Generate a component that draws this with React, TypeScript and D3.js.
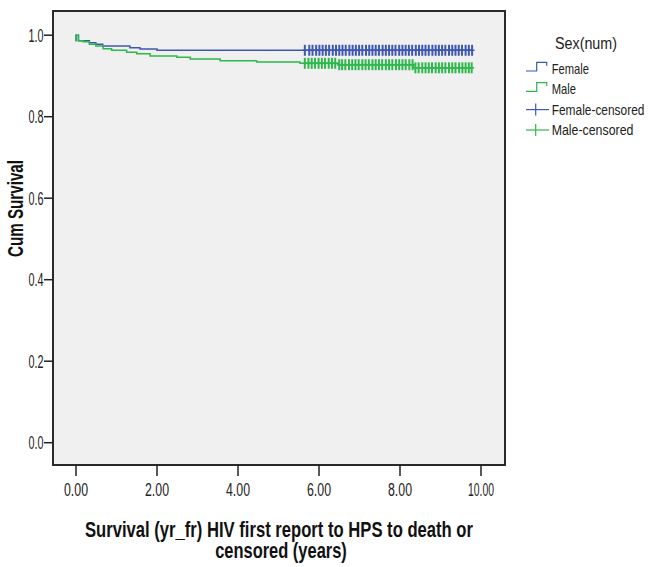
import React from 'react';
import * as d3 from 'd3';

// Kaplan-Meier steps (time in years, cumulative survival)
const femaleTimes = [0, 0, 0.06, 0.33, 0.49, 0.66, 1.33, 1.58, 2.0, 9.79];
const femaleSurv = [0.985, 1.0, 0.9865, 0.9816, 0.978, 0.9735, 0.969, 0.966, 0.963, 0.963];

const maleTimes = [0, 0, 0.06, 0.18, 0.33, 0.49, 0.67, 0.88, 1.25, 1.5, 1.83, 2.49, 2.82, 3.56, 4.46, 5.53, 6.48, 8.33, 9.79];
const maleSurv = [0.985, 1.0, 0.9865, 0.984, 0.978, 0.9735, 0.967, 0.963, 0.958, 0.9546, 0.949, 0.9458, 0.9416, 0.9374, 0.934, 0.931, 0.9276, 0.92, 0.92];

// censored cases
const femaleCensored = [
  5.65, 5.76, 5.84, 5.93, 6.01, 6.09, 6.17, 6.25, 6.34, 6.42, 6.5, 6.58, 6.66, 6.75, 6.83, 6.91, 6.99,
  7.07, 7.16, 7.24, 7.32, 7.4, 7.48, 7.57, 7.65, 7.73, 7.81, 7.89, 7.98, 8.06, 8.14, 8.22, 8.3, 8.39,
  8.47, 8.55, 8.63, 8.71, 8.8, 8.88, 8.96, 9.04, 9.12, 9.21, 9.29, 9.37, 9.45, 9.53, 9.62, 9.7, 9.78,
];
const maleCensored = [
  5.65, 5.74, 5.82, 5.9, 5.99, 6.07, 6.15, 6.24, 6.32, 6.4, 6.5, 6.57, 6.65, 6.74, 6.82, 6.9, 6.98,
  7.07, 7.15, 7.23, 7.32, 7.4, 7.48, 7.56, 7.65, 7.73, 7.81, 7.9, 7.98, 8.06, 8.14, 8.23, 8.31, 8.38,
  8.46, 8.55, 8.63, 8.71, 8.79, 8.88, 8.96, 9.04, 9.12, 9.21, 9.29, 9.37, 9.46, 9.54, 9.62, 9.7, 9.77,
];

const xTicks = [0, 2, 4, 6, 8, 10];
const yTicks = [0, 0.2, 0.4, 0.6, 0.8, 1.0];
const legendLabels = ['Female', 'Male', 'Female-censored', 'Male-censored'];

const BLUE = '#3f57b0';
const GREEN = '#2db84b';
const FONT = 'Liberation Sans, Arial, sans-serif';

const App = () => {
  const frame = { left: 53, right: 505, top: 11, bottom: 465 };
  const x = d3.scaleLinear().domain([0, 10]).range([76, 481]);
  const y = d3.scaleLinear().domain([0, 1]).range([442.7, 35.2]);

  const line = d3.line<[number, number]>()
    .x(d => x(d[0]))
    .y(d => y(d[1]))
    .curve(d3.curveStepAfter);

  const femalePts = femaleTimes.map((t, i) => [t, femaleSurv[i]] as [number, number]);
  const malePts = maleTimes.map((t, i) => [t, maleSurv[i]] as [number, number]);

  // survival value at time t for a step curve
  const survAt = (times: number[], surv: number[], t: number) => {
    let s = surv[0];
    for (let i = 0; i < times.length; i++) if (times[i] <= t) s = surv[i];
    return s;
  };

  const marks = (list: number[], times: number[], surv: number[], color: string, key: string) =>
    list.map((t, i) => {
      const cx = x(t);
      const cy = y(survAt(times, surv, t));
      return (
        <g key={key + i} stroke={color}>
          <line x1={cx} x2={cx} y1={cy - 5.5} y2={cy + 5.5} strokeWidth={2} />
          <line x1={cx - 2.5} x2={cx + 2.5} y1={cy} y2={cy} strokeWidth={1.5} />
        </g>
      );
    });

  const legendY = [74, 94.3, 114.6, 135];
  const legendW = [37.3, 24.3, 92.7, 81.7];

  return (
    <svg width={648} height={567} style={{ position: 'absolute', left: 0, top: 0 }}>
      <rect x={0} y={0} width={648} height={567} fill="#ffffff" />
      <rect x={frame.left} y={frame.top} width={frame.right - frame.left} height={frame.bottom - frame.top}
        fill="#f0f0f0" stroke="#2a2a2a" strokeWidth={2} />

      {/* y axis */}
      {yTicks.map(v => (
        <g key={'y' + v}>
          <line x1={44} x2={frame.left} y1={y(v)} y2={y(v)} stroke="#222" strokeWidth={1.5} />
          <text x={43.5} y={y(v) + 6.5} textAnchor="end" fontFamily={FONT} fontSize={18} fill="#222"
            textLength={15} lengthAdjust="spacingAndGlyphs">{v.toFixed(1)}</text>
        </g>
      ))}
      {/* x axis */}
      {xTicks.map(v => {
        const label = v.toFixed(2);
        return (
          <g key={'x' + v}>
            <line x1={x(v)} x2={x(v)} y1={frame.bottom} y2={476} stroke="#222" strokeWidth={1.5} />
            <text x={x(v)} y={496} textAnchor="middle" fontFamily={FONT} fontSize={18} fill="#222"
              textLength={label.length > 4 ? 26 : 24} lengthAdjust="spacingAndGlyphs">{label}</text>
          </g>
        );
      })}

      {/* curves */}
      <path d={line(femalePts) ?? ''} fill="none" stroke={BLUE} strokeWidth={1.5} />
      <path d={line(malePts) ?? ''} fill="none" stroke={GREEN} strokeWidth={1.5} />
      {marks(femaleCensored, femaleTimes, femaleSurv, BLUE, 'f')}
      {marks(maleCensored, maleTimes, maleSurv, GREEN, 'm')}

      {/* axis titles */}
      <text transform="translate(23,208.5) rotate(-90)" textAnchor="middle" fontFamily={FONT} fontWeight="bold"
        fontSize={22} fill="#111" textLength={97} lengthAdjust="spacingAndGlyphs">Cum Survival</text>
      <text x={279} y={536.7} textAnchor="middle" fontFamily={FONT} fontWeight="bold" fontSize={22} fill="#111"
        textLength={388} lengthAdjust="spacingAndGlyphs">Survival (yr_fr) HIV first report to HPS to death or</text>
      <text x={281} y={558} textAnchor="middle" fontFamily={FONT} fontWeight="bold" fontSize={22} fill="#111"
        textLength={131.7} lengthAdjust="spacingAndGlyphs">censored (years)</text>

      {/* legend */}
      <text x={555} y={48.5} fontFamily={FONT} fontSize={16} fill="#222" textLength={62}
        lengthAdjust="spacingAndGlyphs">Sex(num)</text>
      {legendLabels.map((lab, i) => {
        const by = legendY[i];
        const color = i % 2 === 0 ? BLUE : GREEN;
        let sym;
        if (i < 2) {
          const b = by - 3;
          sym = (
            <path d={`M526,${b} H536.7 V${b - 8.7} H546.7 V${b - 5.3}`} fill="none" stroke={color} strokeWidth={1.2} />
          );
        } else {
          const c = by - 5;
          sym = (
            <g stroke={color} strokeWidth={1.2}>
              <line x1={526} x2={549} y1={c} y2={c} />
              <line x1={535.7} x2={535.7} y1={c - 6} y2={c + 6} />
            </g>
          );
        }
        return (
          <g key={lab}>
            {sym}
            <text x={551.7} y={by} fontFamily={FONT} fontSize={15} fill="#222" textLength={legendW[i]}
              lengthAdjust="spacingAndGlyphs">{lab}</text>
          </g>
        );
      })}
    </svg>
  );
};

export default App;
